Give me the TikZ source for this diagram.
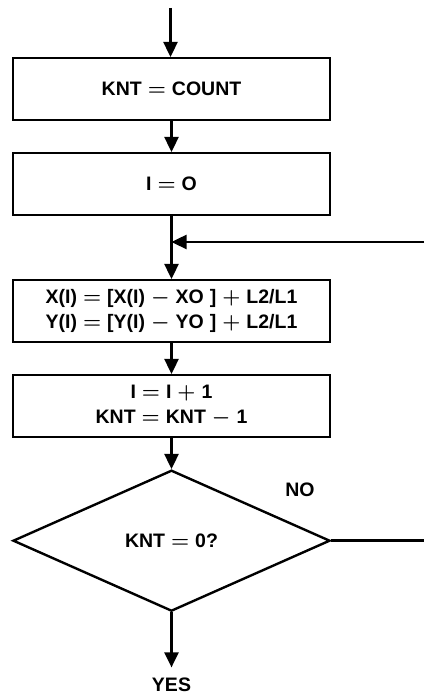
\documentclass[tikz,border=0pt]{standalone}
\usepackage{fontspec}
\setmainfont{Liberation Sans}
\usetikzlibrary{shapes.geometric, arrows.meta, positioning}
\newcommand{\chartfont}{\fontsize{19.5}{25}\selectfont\bfseries\boldmath\spaceskip 6pt plus 1pt\relax}

\begin{document}
\begin{tikzpicture}[
    x=1pt, y=1pt,
    box/.style={draw, line width=2.4pt, minimum width=317pt, minimum height=61.6pt, inner sep=0pt, align=center, font=\chartfont},
    test/.style={draw, diamond, aspect=2.2, line width=2.4pt, minimum width=317pt, minimum height=141pt, inner sep=0pt, font=\chartfont},
    arr/.style={-{Triangle[length=15pt, width=14pt]}, line width=2.4pt},
    flow/.style={line width=2.4pt},
    lbl/.style={inner sep=2pt, font=\chartfont},
]
\useasboundingbox (0,0) rectangle (424,696);

% Nodes
\coordinate (start) at (170.5,688);
\node[box] (kntset) at (171.5,607) {KNT $=$ COUNT};
\node[box, below=31pt of kntset] (iset) {I $=$ O};
\node[box, below=63pt of iset] (scale) {X(I) $=$ [X(I) $-$ XO ] $+$ L2/L1\\Y(I) $=$ [Y(I) $-$ YO ] $+$ L2/L1};
\node[box, below=31pt of scale] (incr) {I $=$ I $+$ 1\\KNT $=$ KNT $-$ 1};
\node[test, below=31pt of incr] (zero) {KNT $=$ 0?};

% Loop ends (cut off at the right edge)
\coordinate (join) at (171.5,454);
\coordinate (back) at (424,454);
\coordinate (noend) at (424,0 |- zero.east);

% Labels
\node[lbl] (no) at (300,206) {NO};
\node[lbl, below=63pt of zero.south] (yes) {YES};

% Arrows
\draw[arr] (start) -- (start |- kntset.north);
\draw[arr] (kntset) -- (iset);
\draw[arr] (iset) -- (scale);
\draw[arr] (back) -- (join);
\draw[arr] (scale) -- (incr);
\draw[arr] (incr) -- (zero);
\draw[flow] (zero.east) -- (noend);
\draw[arr] (zero.south) -- ([yshift=8pt]yes.north);

\end{tikzpicture}
\end{document}
